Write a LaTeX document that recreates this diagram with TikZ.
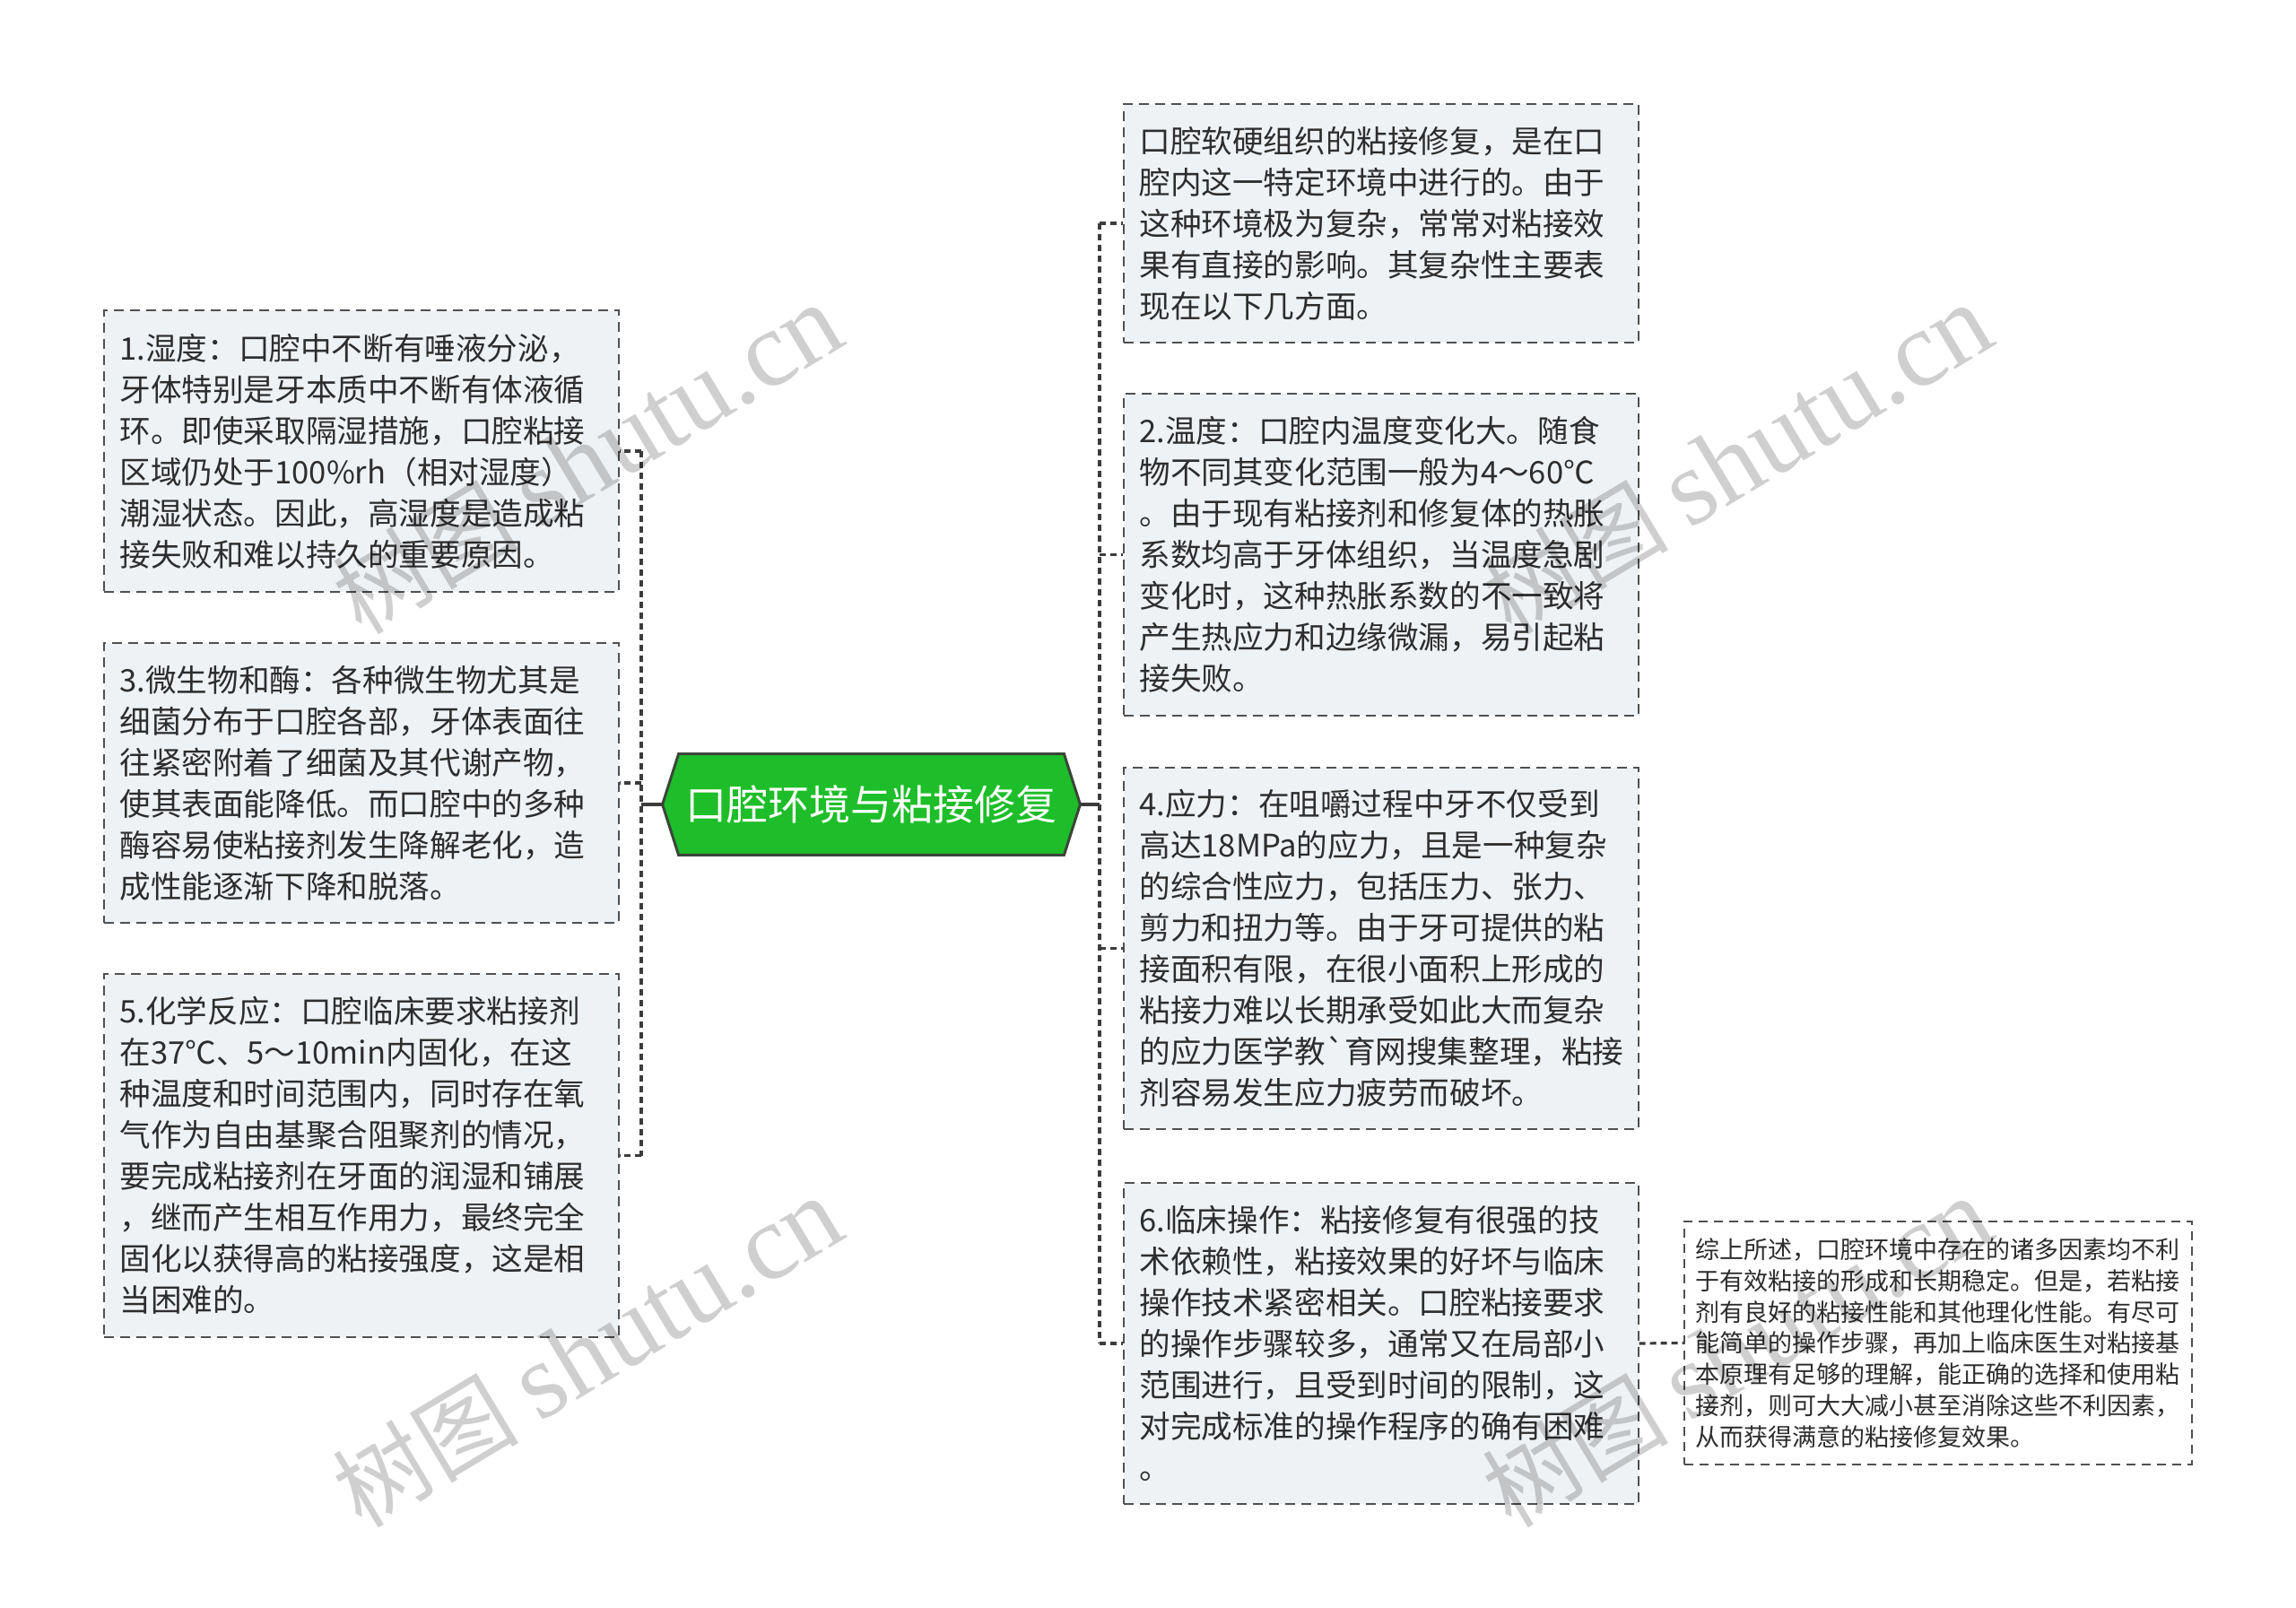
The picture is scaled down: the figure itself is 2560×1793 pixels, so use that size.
\documentclass[tikz,border=0pt]{standalone}
\usepackage{fontspec}
\newfontfamily\cjk{Noto Sans CJK SC}
\newfontfamily\wmlatin{Liberation Serif}
\usetikzlibrary{backgrounds}
\definecolor{boxfill}{RGB}{239,242,245}
\definecolor{boxline}{RGB}{80,80,80}
\definecolor{linkline}{RGB}{60,60,60}
\definecolor{txt}{RGB}{45,45,45}
\definecolor{rootfill}{RGB}{29,190,41}
\definecolor{rootline}{RGB}{58,70,58}
\begin{document}
\begin{tikzpicture}[x=0.5pt,y=-0.5pt,
  topicbox/.style={draw=boxline, line width=1pt, dash pattern=on 5.5pt off 3.5pt,
    fill=boxfill, text=txt, font=\cjk\fontsize{17.3}{23}\selectfont, align=left,
    text width=269pt, inner xsep=9pt, inner ysep=0pt, minimum width=287pt, anchor=center},
  notebox/.style={draw=boxline, line width=0.8pt, dash pattern=on 5pt off 3.5pt,
    fill=white, text=txt, font=\cjk\fontsize{13.5}{17.4}\selectfont, align=left,
    text width=271pt, inner xsep=6pt, inner ysep=0pt, minimum width=283pt, anchor=center},
  rootbox/.style={text=white, font=\cjk\fontsize{23}{28}\selectfont, inner sep=0pt,
    minimum width=214.5pt, minimum height=56pt, anchor=center},
  link/.style={draw=linkline, line width=1.6pt, dash pattern=on 3.5pt off 2.5pt},
  stub/.style={draw=linkline, line width=1.6pt},
  wmark/.style={text=black, text opacity=0.19, rotate=31, inner sep=0pt,
    font=\cjk\fontsize{52}{58}\selectfont}
]
\useasboundingbox (0,0) rectangle (2560,1793);

% root
\node[rootbox] (root) at (971.5,897) {口腔环境与粘接修复};
\begin{scope}[on background layer]
\fill[white] (0,0) rectangle (2560,1793);
\filldraw[fill=rootfill, draw=rootline, line width=1.5pt, line join=miter]
  (root.north west) -- (root.north east) -- ([xshift=9pt]root.east) --
  (root.south east) -- (root.south west) -- ([xshift=-9pt]root.west) -- cycle;
\end{scope}

% left boxes
\node[topicbox, minimum height=157pt] (L1) at (402.5,503) {1.湿度：口腔中不断有唾液分泌，\\牙体特别是牙本质中不断有体液循\\环。即使采取隔湿措施，口腔粘接\\区域仍处于100\%rh（相对湿度）\\潮湿状态。因此，高湿度是造成粘\\接失败和难以持久的重要原因。};
\node[topicbox, minimum height=156pt] (L3) at (402.5,873) {3.微生物和酶：各种微生物尤其是\\细菌分布于口腔各部，牙体表面往\\往紧密附着了细菌及其代谢产物，\\使其表面能降低。而口腔中的多种\\酶容易使粘接剂发生降解老化，造\\成性能逐渐下降和脱落。};
\node[topicbox, minimum height=202.5pt] (L5) at (402.5,1288.5) {5.化学反应：口腔临床要求粘接剂\\在37℃、5～10min内固化，在这\\种温度和时间范围内，同时存在氧\\气作为自由基聚合阻聚剂的情况，\\要完成粘接剂在牙面的润湿和铺展\\，继而产生相互作用力，最终完全\\固化以获得高的粘接强度，这是相\\当困难的。};

% right boxes
\node[topicbox, minimum height=133pt] (R0) at (1539.5,249) {口腔软硬组织的粘接修复，是在口\\腔内这一特定环境中进行的。由于\\这种环境极为复杂，常常对粘接效\\果有直接的影响。其复杂性主要表\\现在以下几方面。};
\node[topicbox, minimum height=179.5pt] (R2) at (1539.5,618.5) {2.温度：口腔内温度变化大。随食\\物不同其变化范围一般为4～60℃\\。由于现有粘接剂和修复体的热胀\\系数均高于牙体组织，当温度急剧\\变化时，这种热胀系数的不一致将\\产生热应力和边缘微漏，易引起粘\\接失败。};
\node[topicbox, minimum height=201.5pt] (R4) at (1539.5,1057.5) {4.应力：在咀嚼过程中牙不仅受到\\高达18MPa的应力，且是一种复杂\\的综合性应力，包括压力、张力、\\剪力和扭力等。由于牙可提供的粘\\接面积有限，在很小面积上形成的\\粘接力难以长期承受如此大而复杂\\的应力医学教`育网搜集整理，粘接\\剂容易发生应力疲劳而破坏。};
\node[topicbox, minimum height=179pt] (R6) at (1539.5,1498) {6.临床操作：粘接修复有很强的技\\术依赖性，粘接效果的好坏与临床\\操作技术紧密相关。口腔粘接要求\\的操作步骤较多，通常又在局部小\\范围进行，且受到时间的限制，这\\对完成标准的操作程序的确有困难\\。};

% note box
\node[notebox, minimum height=135.5pt] (N7) at (2161,1497.5) {综上所述，口腔环境中存在的诸多因素均不利\\于有效粘接的形成和长期稳定。但是，若粘接\\剂有良好的粘接性能和其他理化性能。有尽可\\能简单的操作步骤，再加上临床医生对粘接基\\本原理有足够的理解，能正确的选择和使用粘\\接剂，则可大大减小甚至消除这些不利因素，\\从而获得满意的粘接修复效果。};

% connectors
\coordinate (lt) at (715,897);
\coordinate (rt) at (1226,897);
\draw[stub] ([xshift=-9pt]root.west) -- (lt);
\draw[stub] ([xshift=9pt]root.east) -- (rt);
\draw[link] (lt |- L1.east) -- (lt |- L5.east);
\draw[link] (lt |- L1.east) -- (L1.east);
\draw[link] (lt |- L3.east) -- (L3.east);
\draw[link] (lt |- L5.east) -- (L5.east);
\draw[link] (rt |- R0.west) -- (rt |- R6.west);
\draw[link] (rt |- R0.west) -- (R0.west);
\draw[link] (rt |- R2.west) -- (R2.west);
\draw[link] (rt |- R4.west) -- (R4.west);
\draw[link] (rt |- R6.west) -- (R6.west);
\draw[link] (R6.east) -- (N7.west);

% watermarks
\node[wmark] (wm1) at (655,512) {树图 {\wmlatin\fontsize{60}{64}\selectfont shutu.cn}};
\node[wmark] (wm2) at (1937,512) {树图 {\wmlatin\fontsize{60}{64}\selectfont shutu.cn}};
\node[wmark] (wm3) at (655,1508) {树图 {\wmlatin\fontsize{60}{64}\selectfont shutu.cn}};
\node[wmark] (wm4) at (1937,1508) {树图 {\wmlatin\fontsize{60}{64}\selectfont shutu.cn}};
\end{tikzpicture}
\end{document}
